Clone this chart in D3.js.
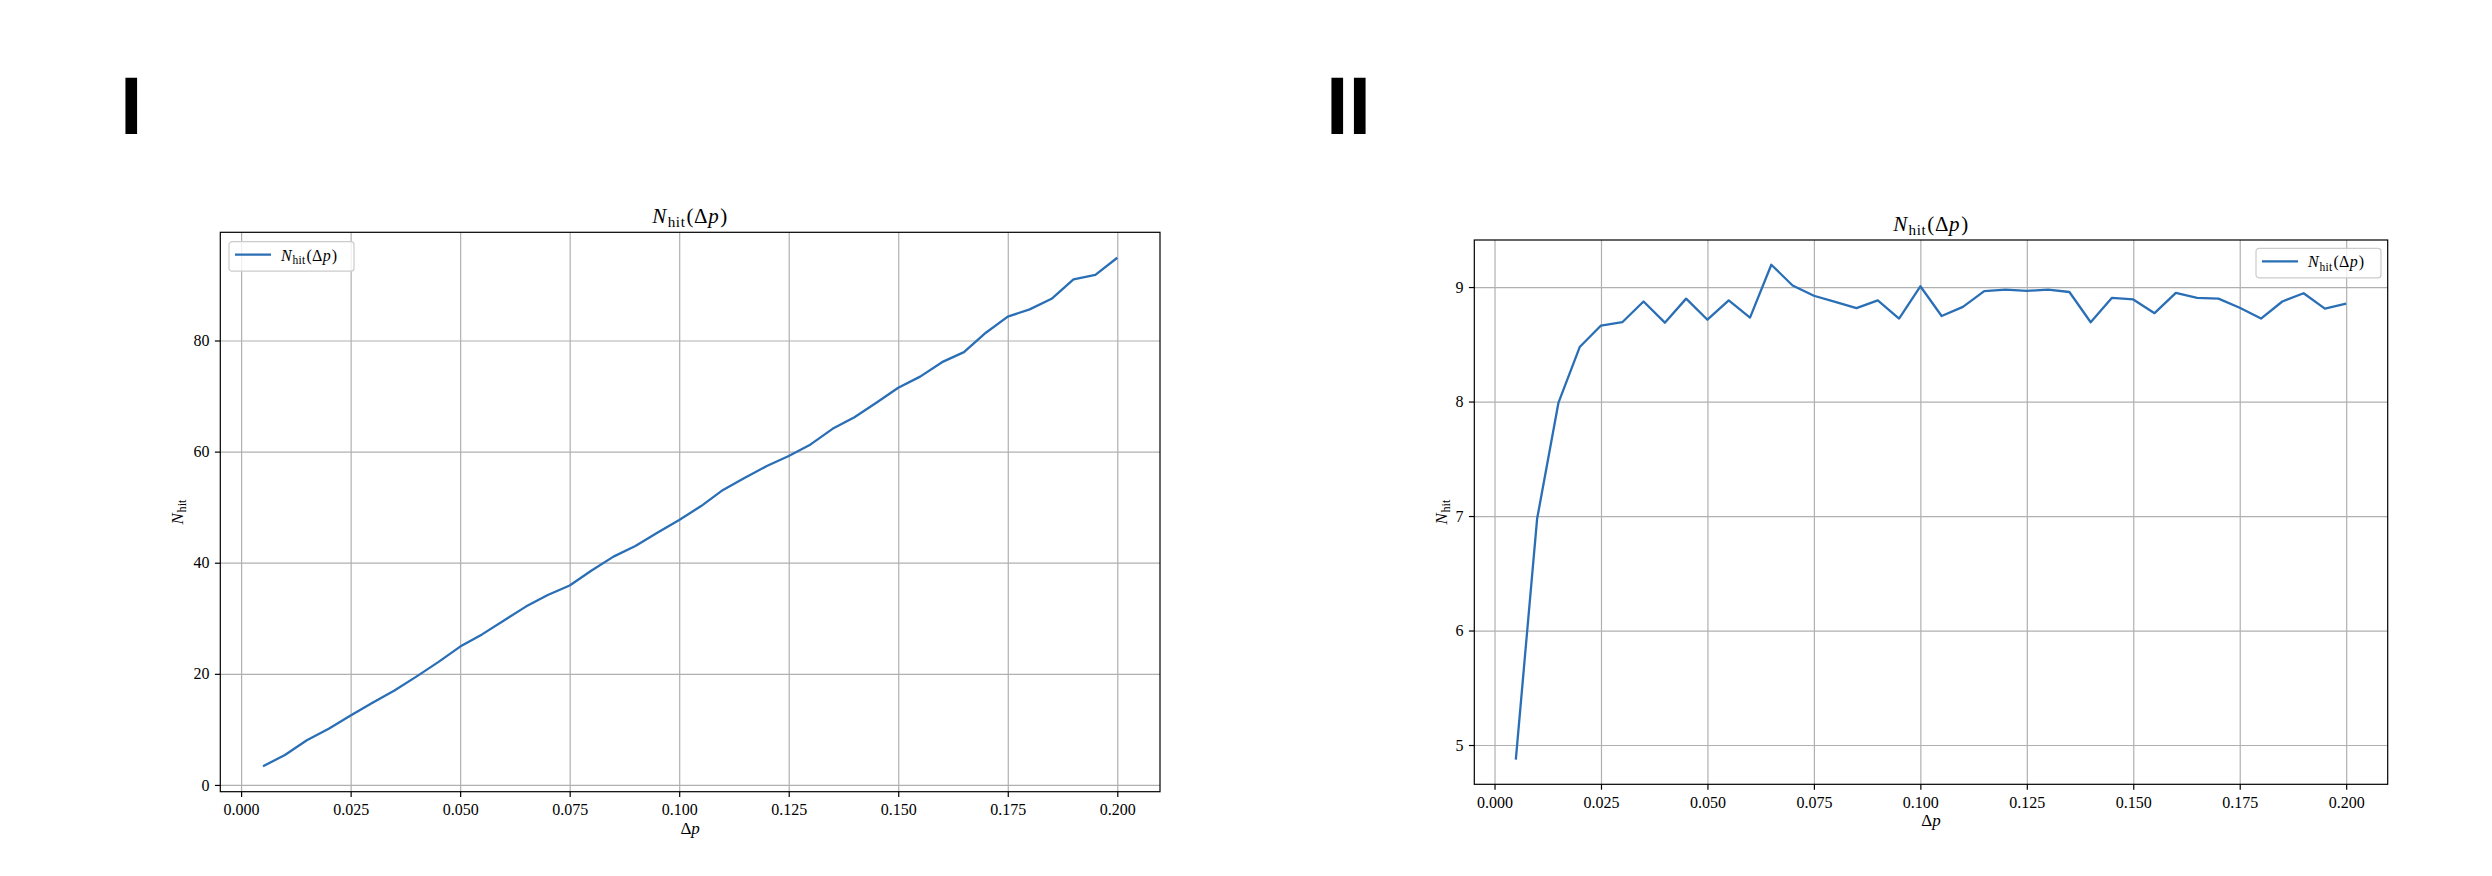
<!DOCTYPE html>
<html>
<head>
<meta charset="utf-8">
<script src="https://cdn.jsdelivr.net/npm/d3@7"></script>
<style>
  html, body { margin: 0; padding: 0; background: #ffffff; }
  svg { display: block; }
</style>
</head>
<body>
<svg id="chart" width="2492" height="876"></svg>
<script>
// ---------------- DATA ----------------
const deltaP = [0.005,0.010,0.015,0.020,0.025,0.030,0.035,0.040,0.045,0.050,
                0.055,0.060,0.065,0.070,0.075,0.080,0.085,0.090,0.095,0.100,
                0.105,0.110,0.115,0.120,0.125,0.130,0.135,0.140,0.145,0.150,
                0.155,0.160,0.165,0.170,0.175,0.180,0.185,0.190,0.195,0.200];

const nHitTotal = [3.36,5.4,8.05,10.1,12.5,14.8,17.0,19.5,22.1,24.9,
                   27.1,29.6,32.1,34.2,35.9,38.6,41.1,43.0,45.4,47.7,
                   50.2,53.1,55.3,57.4,59.2,61.3,64.1,66.2,68.8,71.5,
                   73.5,76.1,77.9,81.4,84.3,85.6,87.5,91.0,91.8,94.9];

const nHitMean = [4.873,6.976,7.988,8.476,8.664,8.693,8.874,8.689,8.899,8.715,
                  8.884,8.733,9.195,9.014,8.924,8.870,8.816,8.884,8.725,9.007,
                  8.747,8.827,8.964,8.978,8.967,8.978,8.957,8.693,8.906,8.892,
                  8.772,8.949,8.906,8.899,8.819,8.725,8.874,8.946,8.812,8.855];

const xTicks = [0.000,0.025,0.050,0.075,0.100,0.125,0.150,0.175,0.200];
const yTicksLeft = [0,20,40,60,80];
const yTicksRight = [5,6,7,8,9];
const panelLabels = ["I","II"];

// ---------------- STYLE ----------------
const FONT = "'Liberation Serif', 'DejaVu Serif', serif";
const LINE_COLOR = "#2a6fb5";
const GRID_COLOR = "#b0b0b0";

const svg = d3.select("#chart");

function richNhit(text, withArg) {
  text.append("tspan").attr("font-style","italic").text("N");
  text.append("tspan").attr("font-size","72%").attr("dy","0.28em").attr("dx","0.05em").text("hit");
  if (withArg) {
    text.append("tspan").attr("dy","-0.2em").attr("dx","0.05em").text("(");
    text.append("tspan").text("\u0394");
    text.append("tspan").attr("font-style","italic").text("p");
    text.append("tspan").attr("dx","0.05em").text(")");
  }
}

function margin5(arr) {
  const [lo, hi] = d3.extent(arr);
  const m = (hi - lo) * 0.05;
  return [lo - m, hi + m];
}

function drawPanel(cfg) {
  const {left, right, top, bottom, ys, yTicks, legendPos} = cfg;
  const w = right - left, h = bottom - top;
  const x = d3.scaleLinear().domain(margin5(deltaP)).range([0, w]);
  const y = d3.scaleLinear().domain(margin5(ys)).range([h, 0]);

  const g = svg.append("g").attr("transform", `translate(${left},${top})`);

  // grid
  const gx = g.append("g").attr("transform", `translate(0,${h})`)
    .call(d3.axisBottom(x).tickValues(xTicks).tickSize(-h).tickFormat(""));
  const gy = g.append("g")
    .call(d3.axisLeft(y).tickValues(yTicks).tickSize(-w).tickFormat(""));
  [gx, gy].forEach(a => {
    a.select(".domain").remove();
    a.selectAll("line").attr("stroke", GRID_COLOR).attr("stroke-width", 1.2);
  });

  // line
  const line = d3.line().x((d,i) => x(deltaP[i])).y(d => y(d));
  g.append("path").datum(ys)
    .attr("fill","none").attr("stroke", LINE_COLOR)
    .attr("stroke-width", 2.3).attr("stroke-linejoin","round").attr("stroke-linecap","butt")
    .attr("d", line);

  // axes
  const ax = g.append("g").attr("transform", `translate(0,${h})`)
    .call(d3.axisBottom(x).tickValues(xTicks).tickSize(5.4).tickPadding(5.4)
      .tickSizeOuter(0).tickFormat(d3.format(".3f")));
  const ay = g.append("g")
    .call(d3.axisLeft(y).tickValues(yTicks).tickSize(5.4).tickPadding(5.4)
      .tickSizeOuter(0).tickFormat(d3.format("d")));
  [ax, ay].forEach(a => {
    a.select(".domain").remove();
    a.selectAll("line").attr("stroke","#000").attr("stroke-width",1.2);
    a.selectAll("text").attr("font-family", FONT).attr("font-size", 16).attr("fill","#000");
  });
  ax.selectAll("text").attr("dy","0.78em");

  // frame
  g.append("rect").attr("x",0).attr("y",0).attr("width",w).attr("height",h)
    .attr("fill","none").attr("stroke","#000").attr("stroke-width",1.2);

  // title
  const t = g.append("text").attr("x", w/2).attr("y", -9.3)
    .attr("text-anchor","middle").attr("font-family",FONT).attr("font-size",21)
    .attr("letter-spacing","0.6px").attr("fill","#000");
  richNhit(t, true);

  // x label
  const xl = g.append("text").attr("x", w/2).attr("y", h + 42)
    .attr("text-anchor","middle").attr("font-family",FONT).attr("font-size",17).attr("fill","#000");
  xl.append("tspan").text("\u0394");
  xl.append("tspan").attr("font-style","italic").text("p");

  // y label
  const yl = g.append("text")
    .attr("transform", `translate(${cfg.ylabelX - left},${h/2}) rotate(-90)`)
    .attr("text-anchor","middle").attr("font-family",FONT).attr("font-size",17).attr("fill","#000");
  richNhit(yl, false);

  // legend
  const lg = g.append("g").attr("transform", `translate(${legendPos[0]-left},${legendPos[1]-top})`);
  lg.append("rect").attr("x",0).attr("y",0).attr("width",125).attr("height",29.5)
    .attr("rx",3).attr("fill","#fff").attr("fill-opacity",0.8)
    .attr("stroke","#cccccc").attr("stroke-width",1.2);
  lg.append("line").attr("x1",6).attr("x2",42).attr("y1",13).attr("y2",13)
    .attr("stroke",LINE_COLOR).attr("stroke-width",2.3);
  const lt = lg.append("text").attr("x",52).attr("y",19)
    .attr("font-family",FONT).attr("font-size",16).attr("letter-spacing","0.3px").attr("fill","#000");
  richNhit(lt, true);
}

drawPanel({left:220.3, right:1160, top:232.3, bottom:791.7, ys:nHitTotal,
           yTicks:yTicksLeft, legendPos:[229,241.7], ylabelX:183});
drawPanel({left:1474.3, right:2387.7, top:240, bottom:784.3, ys:nHitMean,
           yTicks:yTicksRight, legendPos:[2256,248.3], ylabelX:1447});

// panel labels
svg.append("text").attr("x",120).attr("y",134).attr("font-family","'Liberation Sans', Arial, sans-serif")
  .attr("font-weight","bold").attr("font-size",81).attr("fill","#000").text(panelLabels[0]);
svg.append("text").attr("x",1326).attr("y",134).attr("font-family","'Liberation Sans', Arial, sans-serif")
  .attr("font-weight","bold").attr("font-size",81).attr("fill","#000").text(panelLabels[1]);
</script>
</body>
</html>
